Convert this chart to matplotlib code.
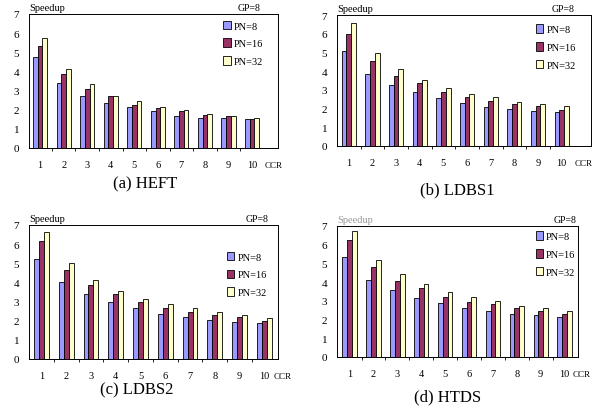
import numpy as np
import matplotlib
matplotlib.use("Agg")
import matplotlib.pyplot as plt

plt.rcParams['font.family'] = ['Liberation Serif', 'DejaVu Serif']

ccr = ['1', '2', '3', '4', '5', '6', '7', '8', '9', '10']
series = ['PN=8', 'PN=16', 'PN=32']

heft_pn8 = [4.77, 3.37, 2.72, 2.37, 2.14, 1.91, 1.67, 1.56, 1.56, 1.49]
heft_pn16 = [5.33, 3.84, 3.09, 2.72, 2.26, 2.09, 1.91, 1.74, 1.67, 1.49]
heft_pn32 = [5.77, 4.12, 3.35, 2.72, 2.44, 2.14, 1.96, 1.79, 1.67, 1.56]

ldbs1_pn8 = [5.09, 3.85, 3.27, 2.91, 2.55, 2.31, 2.07, 2.00, 1.89, 1.82]
ldbs1_pn16 = [5.98, 4.53, 3.75, 3.35, 2.91, 2.62, 2.40, 2.22, 2.13, 1.95]
ldbs1_pn32 = [6.58, 4.98, 4.13, 3.53, 3.09, 2.76, 2.62, 2.36, 2.25, 2.13]

ldbs2_pn8 = [5.24, 4.03, 3.39, 2.99, 2.64, 2.34, 2.17, 2.05, 1.94, 1.88]
ldbs2_pn16 = [6.16, 4.64, 3.85, 3.39, 2.99, 2.69, 2.47, 2.29, 2.17, 2.00]
ldbs2_pn32 = [6.63, 5.00, 4.11, 3.56, 3.16, 2.86, 2.64, 2.43, 2.29, 2.12]

htds_pn8 = [5.35, 4.11, 3.58, 3.17, 2.87, 2.64, 2.46, 2.29, 2.22, 2.16]
htds_pn16 = [6.24, 4.82, 4.06, 3.71, 3.23, 2.93, 2.82, 2.64, 2.46, 2.29]
htds_pn32 = [6.72, 5.18, 4.41, 3.88, 3.46, 3.23, 3.00, 2.75, 2.64, 2.46]

captions = ['(a) HEFT', '(b) LDBS1', '(c) LDBS2', '(d) HTDS']
colors = ['#9999FF', '#993366', '#FFFFCC']

W, H = 595, 410
fig = plt.figure(figsize=(W / 100, H / 100), dpi=100)

# pixel layout: (left, top, right, bottom), xlim, legend anchor, caption (x, y),
# speedup color, GP=8 right edge (px), CCR offset (pt)
panels = [
    ((29, 15, 278, 149), (-0.47, 10.1), (0.94, 0.95), (145, 184), 'black', 260, 9,
     [heft_pn8, heft_pn16, heft_pn32]),
    ((337, 16, 591, 147), (-0.5, 10.24), (0.94, 0.93), (457, 190), 'black', 574, 9,
     [ldbs1_pn8, ldbs1_pn16, ldbs1_pn32]),
    ((29, 226, 278, 360), (-0.5, 9.55), (0.955, 0.80), (137, 390), 'black', 268, 7,
     [ldbs2_pn8, ldbs2_pn16, ldbs2_pn32]),
    ((337, 227, 578, 358), (-0.53, 9.56), (0.99, 0.96), (448, 397), '#999999', 576, 6,
     [htds_pn8, htds_pn16, htds_pn32]),
]

x = np.arange(len(ccr))
bw = 0.2
for (box, xlim, leg, cap, spcol, gpx, ccr_off, vals), caption in zip(panels, captions):
    l, t, r, b = box
    ax = fig.add_axes([l / W, 1 - b / H, (r - l) / W, (b - t) / H])
    for i, (v, c, s) in enumerate(zip(vals, colors, series)):
        ax.bar(x + (i - 1) * bw, v, bw, color=c, edgecolor='black', linewidth=0.6, label=s)
    ax.set_xlim(*xlim)
    ax.set_ylim(0, 7)
    ax.set_yticks(range(8))
    ax.set_xticks(x)
    ax.set_xticklabels(ccr)
    ax.set_xticks(x[:-1] + 0.5, minor=True)
    ax.tick_params(axis='x', which='major', length=0, pad=9, labelsize=7.5)
    ax.tick_params(axis='x', which='minor', length=2, direction='out', width=0.6)
    ax.tick_params(axis='y', length=0, pad=7, labelsize=8)
    for sp in ax.spines.values():
        sp.set_linewidth(0.7)
    ax.legend(loc='upper right', bbox_to_anchor=leg, frameon=False, fontsize=7.5,
              handlelength=0.7, handleheight=0.9, handletextpad=0.3,
              labelspacing=0.75, borderpad=0, borderaxespad=0)
    ax.text(0, 1.015, 'Speedup', transform=ax.transAxes, fontsize=7.5,
            color=spcol, ha='left', va='bottom')
    fig.text(gpx / W, 1 - (t - 2) / H, 'GP=8', fontsize=7, ha='right', va='bottom')
    ax.annotate('CCR', xy=(x[-1], 0), xycoords=('data', 'axes fraction'),
                xytext=(ccr_off, -12), textcoords='offset points', fontsize=6.5,
                ha='left', va='center')
    fig.text(cap[0] / W, 1 - cap[1] / H, caption, fontsize=12,
             ha='center', va='center')

fig.savefig('out.png', dpi=100)
